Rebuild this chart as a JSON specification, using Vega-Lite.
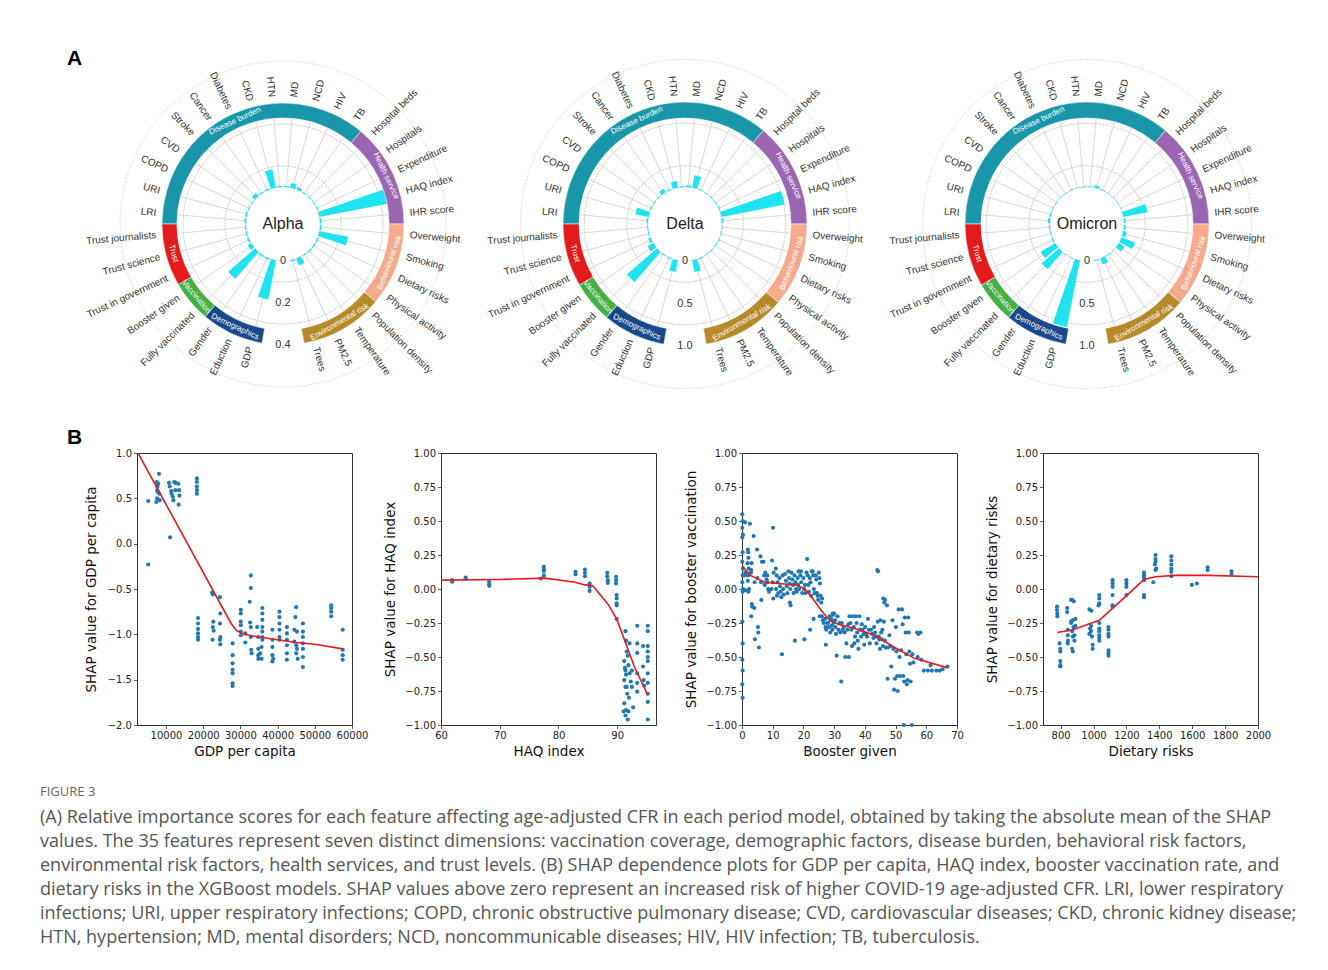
{
  "$schema": "https://vega.github.io/schema/vega-lite/v6.json",
  "background": "white",
  "padding": {"left": 40, "top": 48, "right": 5, "bottom": 5},
  "datasets": {
    "features": [
      {"feature":"LRI","k":-9,"group":"Disease burden","Alpha":0.008,"Delta":0.02,"Omicron":0.025},
      {"feature":"URI","k":-8,"group":"Disease burden","Alpha":0.008,"Delta":0.16,"Omicron":0.015},
      {"feature":"COPD","k":-7,"group":"Disease burden","Alpha":0.004,"Delta":0.012,"Omicron":0.008},
      {"feature":"CVD","k":-6,"group":"Disease burden","Alpha":0.004,"Delta":0.01,"Omicron":0.008},
      {"feature":"Stroke","k":-5,"group":"Disease burden","Alpha":0.02,"Delta":0.01,"Omicron":0.008},
      {"feature":"Cancer","k":-4,"group":"Disease burden","Alpha":0.006,"Delta":0.05,"Omicron":0.008},
      {"feature":"Diabetes","k":-3,"group":"Disease burden","Alpha":0.006,"Delta":0.012,"Omicron":0.008},
      {"feature":"CKD","k":-2,"group":"Disease burden","Alpha":0.09,"Delta":0.08,"Omicron":0.008},
      {"feature":"HTN","k":-1,"group":"Disease burden","Alpha":0.006,"Delta":0.012,"Omicron":0.008},
      {"feature":"MD","k":0,"group":"Disease burden","Alpha":0.006,"Delta":0.02,"Omicron":0.008},
      {"feature":"NCD","k":1,"group":"Disease burden","Alpha":0.023,"Delta":0.15,"Omicron":0.03},
      {"feature":"HIV","k":2,"group":"Disease burden","Alpha":0.012,"Delta":0.01,"Omicron":0.008},
      {"feature":"TB","k":3,"group":"Disease burden","Alpha":0.004,"Delta":0.008,"Omicron":0.006},
      {"feature":"Hospital beds","k":4,"group":"Health service","Alpha":0.004,"Delta":0.008,"Omicron":0.006},
      {"feature":"Hospitals","k":5,"group":"Health service","Alpha":0.004,"Delta":0.008,"Omicron":0.006},
      {"feature":"Expenditure","k":6,"group":"Health service","Alpha":0.004,"Delta":0.012,"Omicron":0.006},
      {"feature":"HAQ index","k":7,"group":"Health service","Alpha":0.33,"Delta":0.76,"Omicron":0.29},
      {"feature":"IHR score","k":8,"group":"Health service","Alpha":0.008,"Delta":0.015,"Omicron":0.015},
      {"feature":"Overweight","k":9,"group":"Behavioural risk","Alpha":0.008,"Delta":0.008,"Omicron":0.02},
      {"feature":"Smoking","k":10,"group":"Behavioural risk","Alpha":0.14,"Delta":0.01,"Omicron":0.04},
      {"feature":"Dietary risks","k":11,"group":"Behavioural risk","Alpha":0.006,"Delta":0.01,"Omicron":0.17},
      {"feature":"Physical activity","k":12,"group":"Behavioural risk","Alpha":0.006,"Delta":0.008,"Omicron":0.08},
      {"feature":"Population density","k":13,"group":"Environmental risk","Alpha":0.006,"Delta":0.008,"Omicron":0.006},
      {"feature":"Temperature","k":14,"group":"Environmental risk","Alpha":0.004,"Delta":0.008,"Omicron":0.01},
      {"feature":"PM2.5","k":15,"group":"Environmental risk","Alpha":0.035,"Delta":0.012,"Omicron":0.075},
      {"feature":"Trees","k":16,"group":"Environmental risk","Alpha":0.006,"Delta":0.14,"Omicron":0.01},
      {"feature":"GDP","k":19,"group":"Demographics","Alpha":0.19,"Delta":0.14,"Omicron":0.8},
      {"feature":"Eduction","k":20,"group":"Demographics","Alpha":0.008,"Delta":0.012,"Omicron":0.006},
      {"feature":"Gender","k":21,"group":"Demographics","Alpha":0.008,"Delta":0.012,"Omicron":0.006},
      {"feature":"Fully vaccinated","k":22,"group":"Vaccination","Alpha":0.17,"Delta":0.47,"Omicron":0.27},
      {"feature":"Booster given","k":23,"group":"Vaccination","Alpha":0.02,"Delta":0.08,"Omicron":0.2},
      {"feature":"Trust in government","k":24,"group":"Trust","Alpha":0.008,"Delta":0.03,"Omicron":0.015},
      {"feature":"Trust science","k":25,"group":"Trust","Alpha":0.006,"Delta":0.012,"Omicron":0.01},
      {"feature":"Trust journalists","k":26,"group":"Trust","Alpha":0.006,"Delta":0.012,"Omicron":0.012}
    ],
    "gdp": [
      {"x":5200,"y":0.47},{"x":5200,"y":-0.23},
      {"x":7400,"y":0.46},{"x":7600,"y":0.5},{"x":7800,"y":0.57},{"x":7900,"y":0.66},{"x":8100,"y":0.77},{"x":7500,"y":0.68},{"x":7700,"y":0.63},{"x":8200,"y":0.55},{"x":8300,"y":0.48},{"x":7600,"y":0.59},
      {"x":11100,"y":0.07},
      {"x":10800,"y":0.67},{"x":11000,"y":0.63},{"x":11500,"y":0.55},{"x":11800,"y":0.52},{"x":12200,"y":0.68},{"x":12500,"y":0.59},{"x":12000,"y":0.48},{"x":13300,"y":0.66},{"x":13500,"y":0.59},{"x":13600,"y":0.53},{"x":13400,"y":0.43},{"x":12600,"y":0.67},{"x":11400,"y":0.58},
      {"x":18300,"y":0.72},{"x":18300,"y":0.68},{"x":18300,"y":0.63},{"x":18300,"y":0.59},{"x":18300,"y":0.55},
      {"x":18600,"y":-0.82},{"x":18600,"y":-0.88},{"x":18600,"y":-0.94},{"x":18600,"y":-0.99},{"x":18600,"y":-1.03},{"x":18600,"y":-1.06},
      {"x":22400,"y":-0.54},{"x":22600,"y":-0.56},{"x":22700,"y":-0.86},{"x":22600,"y":-0.92},{"x":22500,"y":-1.06},{"x":22800,"y":-0.96},
      {"x":24500,"y":-0.59},{"x":24600,"y":-0.77},{"x":24500,"y":-0.88},{"x":24600,"y":-1.03},{"x":24500,"y":-1.06},{"x":24600,"y":-1.11},
      {"x":27900,"y":-1.1},{"x":27900,"y":-1.23},{"x":27900,"y":-1.32},{"x":27900,"y":-1.39},{"x":27900,"y":-1.43},{"x":27900,"y":-1.54},{"x":27900,"y":-1.57},
      {"x":30100,"y":-0.73},{"x":30100,"y":-0.77},{"x":30100,"y":-0.86},{"x":30100,"y":-0.9},{"x":30100,"y":-0.97},{"x":30100,"y":-1.01},
      {"x":31300,"y":-0.99},{"x":31300,"y":-1.09},
      {"x":32800,"y":-0.35},{"x":32800,"y":-0.49},{"x":32500,"y":-0.64},{"x":32600,"y":-0.87},{"x":32800,"y":-0.92},{"x":32800,"y":-1.03},{"x":32900,"y":-1.17},{"x":33000,"y":-1.21},
      {"x":34500,"y":-0.92},{"x":34800,"y":-1.03},{"x":34800,"y":-1.16},{"x":34800,"y":-1.23},{"x":34800,"y":-1.27},{"x":35700,"y":-1.14},{"x":35300,"y":-1.21},{"x":35700,"y":-1.27},
      {"x":35900,"y":-0.71},{"x":35900,"y":-0.77},{"x":35900,"y":-0.84},{"x":35900,"y":-0.92},{"x":35900,"y":-0.97},{"x":35900,"y":-1.03},{"x":35900,"y":-1.06},
      {"x":38600,"y":-0.95},{"x":38600,"y":-1.06},{"x":38600,"y":-1.14},{"x":38600,"y":-1.23},{"x":38600,"y":-1.3},{"x":38800,"y":-1.27},
      {"x":40500,"y":-0.75},{"x":40500,"y":-0.81},{"x":40500,"y":-0.88},{"x":40500,"y":-0.95},{"x":40500,"y":-1.03},{"x":40500,"y":-1.06},
      {"x":42500,"y":-0.92},{"x":42500,"y":-0.99},{"x":42500,"y":-1.06},{"x":42500,"y":-1.12},{"x":42500,"y":-1.21},{"x":42500,"y":-1.28},
      {"x":45000,"y":-0.7},{"x":44800,"y":-0.81},{"x":44500,"y":-0.95},{"x":44500,"y":-1.08},{"x":45000,"y":-1.12},{"x":45200,"y":-1.16},{"x":45000,"y":-1.21},{"x":45400,"y":-1.27},{"x":45200,"y":-0.97},
      {"x":46800,"y":-0.88},{"x":46800,"y":-0.97},{"x":46800,"y":-1.03},{"x":46800,"y":-1.1},{"x":46800,"y":-1.16},{"x":46800,"y":-1.25},{"x":46800,"y":-1.36},
      {"x":54400,"y":-0.68},{"x":54400,"y":-0.71},{"x":54400,"y":-0.75},{"x":54400,"y":-0.8},
      {"x":57500,"y":-0.95},{"x":57500,"y":-1.17},{"x":57500,"y":-1.23},{"x":57500,"y":-1.28}
    ],
    "gdp_fit": [
      {"x":2200,"y":1.02},{"x":27500,"y":-0.88},{"x":29000,"y":-0.96},{"x":31000,"y":-1.0},{"x":35000,"y":-1.03},{"x":40000,"y":-1.06},{"x":45000,"y":-1.09},{"x":50000,"y":-1.11},{"x":57500,"y":-1.16}
    ],
    "haq": [
      {"x":61.9,"y":0.065},{"x":61.9,"y":0.053},{"x":64.2,"y":0.084},{"x":64.2,"y":0.075},{"x":68.2,"y":0.053},{"x":68.2,"y":0.035},{"x":68.2,"y":0.023},
      {"x":77.0,"y":0.077},{"x":77.5,"y":0.163},{"x":77.5,"y":0.145},{"x":77.5,"y":0.133},{"x":77.5,"y":0.1},
      {"x":82.9,"y":0.126},{"x":82.9,"y":0.109},{"x":84.5,"y":0.143},{"x":84.5,"y":0.119},{"x":84.5,"y":0.094},
      {"x":85.3,"y":0.04},{"x":85.3,"y":0.016},{"x":85.3,"y":-0.014},
      {"x":88.3,"y":0.119},{"x":88.3,"y":0.094},{"x":88.4,"y":0.065},{"x":88.4,"y":0.045},
      {"x":89.8,"y":0.09},{"x":89.8,"y":0.065},{"x":89.8,"y":0.04},{"x":89.9,"y":-0.045},{"x":89.9,"y":-0.07},{"x":89.9,"y":-0.106},{"x":89.9,"y":-0.12},{"x":89.9,"y":-0.22},
      {"x":91.4,"y":-0.31},{"x":91.5,"y":-0.38},{"x":91.6,"y":-0.46},{"x":91.2,"y":-0.53},{"x":91.4,"y":-0.6},{"x":91.5,"y":-0.63},{"x":91.2,"y":-0.67},{"x":91.4,"y":-0.72},{"x":91.7,"y":-0.77},{"x":91.2,"y":-0.84},{"x":91.5,"y":-0.89},{"x":91.4,"y":-0.93},{"x":91.8,"y":-0.96},{"x":91.8,"y":-0.49},{"x":92.1,"y":-0.4},{"x":91.9,"y":-0.56},{"x":92.1,"y":-0.62},{"x":92.3,"y":-0.68},{"x":91.9,"y":-0.9},{"x":91.1,"y":-0.9},{"x":91.6,"y":-0.72},{"x":92.0,"y":-0.8},{"x":91.3,"y":-0.58},
      {"x":92.5,"y":-0.6},{"x":92.5,"y":-0.72},{"x":92.7,"y":-0.87},
      {"x":93.4,"y":-0.27},{"x":93.4,"y":-0.4},{"x":93.4,"y":-0.47},{"x":93.4,"y":-0.62},{"x":93.4,"y":-0.69},{"x":93.4,"y":-0.755},
      {"x":94.4,"y":-0.42},{"x":94.4,"y":-0.57},{"x":94.5,"y":-0.67},{"x":94.6,"y":-0.71},
      {"x":95.2,"y":-0.27},{"x":95.2,"y":-0.31},{"x":95.2,"y":-0.42},{"x":95.2,"y":-0.46},{"x":95.2,"y":-0.5},{"x":95.2,"y":-0.53},{"x":95.2,"y":-0.62},{"x":95.2,"y":-0.69},{"x":95.2,"y":-0.77},{"x":95.2,"y":-0.83},{"x":95.2,"y":-0.96}
    ],
    "haq_fit": [
      {"x":60,"y":0.065},{"x":70,"y":0.07},{"x":77.7,"y":0.08},{"x":82.8,"y":0.05},{"x":84.5,"y":0.03},{"x":85.8,"y":0.025},{"x":88.4,"y":-0.11},{"x":89.9,"y":-0.22},{"x":91.2,"y":-0.37},{"x":92.9,"y":-0.57},{"x":95.2,"y":-0.78}
    ],
    "booster": [
      {"x":0.1,"y":0.55},{"x":0.2,"y":0.5},{"x":0.1,"y":0.45},{"x":0.3,"y":0.4},{"x":0.1,"y":0.38},{"x":0.2,"y":0.27},{"x":0.1,"y":0.2},{"x":0.3,"y":0.15},{"x":0.2,"y":0.1},{"x":0.1,"y":0.05},{"x":0.3,"y":0.0},{"x":0.2,"y":-0.02},{"x":0.1,"y":-0.24},{"x":0.2,"y":-0.4},{"x":0.1,"y":-0.52},{"x":0.2,"y":-0.6},{"x":0.1,"y":-0.7},{"x":0.2,"y":-0.8},
      {"x":1.0,"y":0.49},{"x":1.1,"y":0.12},{"x":0.9,"y":0.1},{"x":1.2,"y":-0.01},
      {"x":1.9,"y":0.29},{"x":2.0,"y":0.27},{"x":2.1,"y":0.23},{"x":1.8,"y":0.19},{"x":2.2,"y":0.15},{"x":2.0,"y":0.1},{"x":1.9,"y":0.06},{"x":2.3,"y":0.0},{"x":2.1,"y":-0.02},{"x":2.6,"y":0.48},
      {"x":3.0,"y":0.14},{"x":3.1,"y":0.19},{"x":2.9,"y":0.12},{"x":3.2,"y":-0.11},{"x":3.3,"y":-0.13},{"x":3.0,"y":-0.2},
      {"x":3.8,"y":0.39},{"x":4.1,"y":0.05},{"x":4.0,"y":-0.14},{"x":4.2,"y":-0.37},
      {"x":4.9,"y":0.29},{"x":5.0,"y":0.08},{"x":5.2,"y":-0.28},{"x":5.3,"y":-0.32},{"x":5.5,"y":-0.43},
      {"x":6.0,"y":0.24},{"x":6.2,"y":0.05},{"x":6.3,"y":-0.08},{"x":6.5,"y":0.2},
      {"x":7.0,"y":0.2},{"x":7.2,"y":0.1},{"x":7.4,"y":0.03},{"x":7.6,"y":0.12},
      {"x":8.0,"y":0.07},{"x":8.3,"y":0.05},{"x":8.5,"y":0.0},{"x":8.8,"y":-0.02},{"x":8.2,"y":0.1},
      {"x":10.1,"y":0.45},{"x":9.8,"y":0.21},{"x":10.3,"y":0.12},{"x":10.0,"y":0.05},{"x":10.2,"y":-0.07},{"x":9.6,"y":0.0},
      {"x":11.0,"y":0.15},{"x":11.3,"y":0.1},{"x":11.6,"y":0.05},{"x":11.1,"y":0.0},{"x":11.8,"y":-0.03},{"x":11.4,"y":-0.05},
      {"x":12.2,"y":0.08},{"x":12.4,"y":0.02},{"x":12.6,"y":-0.02},{"x":12.8,"y":-0.06},
      {"x":13.0,"y":-0.48},{"x":13.2,"y":0.1},{"x":13.4,"y":0.0},{"x":13.6,"y":-0.04},
      {"x":14.0,"y":0.11},{"x":14.3,"y":0.06},{"x":14.6,"y":0.02},{"x":14.8,"y":-0.03},
      {"x":15.1,"y":0.13},{"x":15.3,"y":0.08},{"x":15.5,"y":0.04},{"x":15.7,"y":0.0},{"x":15.6,"y":-0.1},{"x":15.8,"y":-0.12},
      {"x":16.1,"y":0.12},{"x":16.4,"y":0.07},{"x":16.6,"y":0.03},{"x":16.8,"y":-0.03},
      {"x":17.2,"y":-0.38},{"x":17.1,"y":0.1},{"x":17.4,"y":0.05},{"x":17.6,"y":0.0},{"x":17.8,"y":-0.02},
      {"x":18.1,"y":0.08},{"x":18.3,"y":0.03},{"x":18.6,"y":0.0},{"x":18.4,"y":0.13},
      {"x":19.0,"y":0.1},{"x":19.3,"y":0.05},{"x":19.6,"y":-0.03},{"x":19.2,"y":0.13},
      {"x":20.3,"y":-0.37},{"x":20.0,"y":0.08},{"x":20.2,"y":0.0},{"x":20.5,"y":0.03},{"x":20.7,"y":-0.03},
      {"x":21.2,"y":0.22},{"x":21.0,"y":0.12},{"x":21.4,"y":0.1},{"x":21.6,"y":0.03},{"x":21.8,"y":-0.02},
      {"x":22.1,"y":0.08},{"x":22.3,"y":0.05},{"x":22.5,"y":-0.05},{"x":22.2,"y":-0.3},{"x":22.7,"y":0.13},
      {"x":23.0,"y":0.13},{"x":23.2,"y":0.1},{"x":23.4,"y":0.0},{"x":23.6,"y":-0.03},{"x":23.3,"y":-0.22},
      {"x":24.0,"y":0.1},{"x":24.2,"y":0.07},{"x":24.4,"y":-0.03},{"x":24.6,"y":-0.05},{"x":24.8,"y":-0.08},
      {"x":25.0,"y":0.12},{"x":25.2,"y":0.08},{"x":25.4,"y":0.04},{"x":25.3,"y":-0.2},{"x":25.6,"y":-0.05},{"x":25.8,"y":-0.1},
      {"x":26.0,"y":-0.2},{"x":26.3,"y":-0.23},{"x":26.1,"y":-0.07},{"x":26.6,"y":-0.25},
      {"x":27.0,"y":-0.22},{"x":27.2,"y":-0.28},{"x":27.4,"y":-0.3},{"x":27.3,"y":-0.41},{"x":27.7,"y":-0.25},
      {"x":28.0,"y":-0.25},{"x":28.3,"y":-0.28},{"x":28.5,"y":-0.2},{"x":28.7,"y":-0.32},{"x":28.9,"y":-0.23},
      {"x":29.0,"y":-0.22},{"x":29.2,"y":-0.27},{"x":29.4,"y":-0.3},{"x":29.6,"y":-0.19},{"x":29.8,"y":-0.25},{"x":29.5,"y":-0.18},
      {"x":30.0,"y":-0.18},{"x":30.3,"y":-0.23},{"x":30.6,"y":-0.33},{"x":30.8,"y":-0.49},{"x":30.4,"y":-0.28},
      {"x":31.1,"y":-0.2},{"x":31.4,"y":-0.3},{"x":31.7,"y":-0.25},
      {"x":32.0,"y":-0.32},{"x":32.3,"y":-0.68},{"x":32.5,"y":-0.25},{"x":32.8,"y":-0.3},
      {"x":33.1,"y":-0.28},{"x":33.4,"y":-0.32},{"x":33.6,"y":-0.5},
      {"x":34.0,"y":-0.4},{"x":34.3,"y":-0.3},{"x":34.6,"y":-0.26},{"x":34.8,"y":-0.5},
      {"x":35.0,"y":-0.2},{"x":35.3,"y":-0.25},{"x":35.6,"y":-0.3},{"x":35.8,"y":-0.42},
      {"x":36.1,"y":-0.2},{"x":36.4,"y":-0.28},{"x":36.6,"y":-0.4},{"x":36.8,"y":-0.35},
      {"x":37.0,"y":-0.2},{"x":37.3,"y":-0.25},{"x":37.5,"y":-0.32},{"x":37.7,"y":-0.38},{"x":37.9,"y":-0.44},
      {"x":38.2,"y":-0.2},{"x":38.5,"y":-0.3},{"x":38.8,"y":-0.35},
      {"x":39.0,"y":-0.26},{"x":39.3,"y":-0.3},{"x":39.6,"y":-0.33},{"x":39.8,"y":-0.41},
      {"x":40.1,"y":-0.28},{"x":40.4,"y":-0.33},{"x":40.7,"y":-0.35},
      {"x":41.0,"y":-0.22},{"x":41.3,"y":-0.3},{"x":41.6,"y":-0.4},
      {"x":42.0,"y":-0.3},{"x":42.4,"y":-0.33},{"x":42.8,"y":-0.36},
      {"x":43.0,"y":-0.28},{"x":43.3,"y":-0.32},{"x":43.6,"y":-0.35},{"x":43.8,"y":-0.4},
      {"x":44.0,"y":0.14},{"x":44.3,"y":0.13},{"x":44.2,"y":-0.24},{"x":44.5,"y":-0.35},{"x":44.7,"y":-0.37},{"x":44.9,"y":-0.44},
      {"x":45.1,"y":-0.23},{"x":45.3,"y":-0.32},{"x":45.5,"y":-0.37},{"x":45.7,"y":-0.3},{"x":45.9,"y":-0.42},
      {"x":46.0,"y":-0.07},{"x":46.3,"y":-0.1},{"x":46.6,"y":-0.08},{"x":46.2,"y":-0.24},{"x":46.5,"y":-0.38},{"x":46.8,"y":-0.43},
      {"x":47.2,"y":-0.12},{"x":47.5,"y":-0.43},{"x":47.4,"y":-0.66},
      {"x":48.0,"y":-0.34},{"x":48.3,"y":-0.42},{"x":48.6,"y":-0.57},
      {"x":49.0,"y":-0.23},{"x":49.3,"y":-0.44},{"x":49.5,"y":-0.74},{"x":49.8,"y":-0.66},
      {"x":50.1,"y":-0.28},{"x":50.3,"y":-0.46},{"x":50.5,"y":-0.64},{"x":50.7,"y":-0.75},
      {"x":51.0,"y":-0.15},{"x":51.3,"y":-0.5},{"x":51.5,"y":-0.64},{"x":51.8,"y":-0.45},
      {"x":52.1,"y":-0.15},{"x":52.3,"y":-0.26},{"x":52.5,"y":-0.64},{"x":52.8,"y":-0.68},{"x":52.7,"y":-1.0},
      {"x":53.0,"y":-0.21},{"x":53.3,"y":-0.32},{"x":53.5,"y":-0.48},{"x":53.7,"y":-0.7},{"x":53.9,"y":-0.67},
      {"x":54.1,"y":-0.21},{"x":54.3,"y":-0.32},{"x":54.5,"y":-0.46},{"x":54.7,"y":-0.55},{"x":54.9,"y":-0.68},
      {"x":55.3,"y":-1.0},{"x":55.5,"y":-0.48},{"x":55.8,"y":-0.54},
      {"x":57.0,"y":-0.32},{"x":57.4,"y":-0.33},{"x":57.2,"y":-0.5},
      {"x":58.1,"y":-0.32},{"x":58.4,"y":-0.52},
      {"x":59.2,"y":-0.6},{"x":60.5,"y":-0.6},{"x":61.4,"y":-0.56},{"x":61.8,"y":-0.6},{"x":63.3,"y":-0.6},{"x":64.4,"y":-0.6},{"x":65.3,"y":-0.59},{"x":66.9,"y":-0.57}
    ],
    "booster_fit": [
      {"x":0,"y":0.17},{"x":2.7,"y":0.1},{"x":7.4,"y":0.05},{"x":11.7,"y":0.04},{"x":17.6,"y":0.03},{"x":20.5,"y":0.0},{"x":22.7,"y":-0.06},{"x":25.9,"y":-0.16},{"x":28.1,"y":-0.22},{"x":31.3,"y":-0.26},{"x":36.7,"y":-0.29},{"x":43.2,"y":-0.34},{"x":49.7,"y":-0.43},{"x":56.2,"y":-0.51},{"x":67,"y":-0.58}
    ],
    "diet": [
      {"x":778,"y":-0.13},{"x":778,"y":-0.155},{"x":780,"y":-0.18},{"x":780,"y":-0.2},{"x":794,"y":-0.4},{"x":798,"y":-0.44},{"x":798,"y":-0.46},{"x":798,"y":-0.53},{"x":798,"y":-0.56},{"x":798,"y":-0.57},
      {"x":840,"y":-0.14},{"x":840,"y":-0.17},{"x":844,"y":-0.3},{"x":844,"y":-0.34},{"x":844,"y":-0.38},{"x":844,"y":-0.4},
      {"x":864,"y":-0.08},{"x":870,"y":-0.08},{"x":880,"y":-0.09},{"x":874,"y":-0.23},{"x":864,"y":-0.25},{"x":878,"y":-0.28},{"x":870,"y":-0.31},{"x":884,"y":-0.34},{"x":874,"y":-0.35},{"x":884,"y":-0.38},{"x":870,"y":-0.44},{"x":874,"y":-0.46},{"x":864,"y":-0.24},{"x":890,"y":-0.22},{"x":890,"y":-0.27},
      {"x":975,"y":-0.15},{"x":987,"y":-0.16},{"x":979,"y":-0.29},{"x":985,"y":-0.31},{"x":975,"y":-0.33},{"x":991,"y":-0.35},{"x":985,"y":-0.27},{"x":995,"y":-0.41},{"x":995,"y":-0.44},
      {"x":1035,"y":-0.045},{"x":1035,"y":-0.07},{"x":1035,"y":-0.106},{"x":1031,"y":-0.12},{"x":1035,"y":-0.25},{"x":1035,"y":-0.29},{"x":1035,"y":-0.31},{"x":1035,"y":-0.34},{"x":1035,"y":-0.36},{"x":1035,"y":-0.38},
      {"x":1091,"y":-0.28},{"x":1091,"y":-0.3},{"x":1091,"y":-0.33},{"x":1091,"y":-0.35},{"x":1091,"y":-0.45},{"x":1091,"y":-0.47},{"x":1091,"y":-0.49},
      {"x":1116,"y":0.065},{"x":1116,"y":0.04},{"x":1116,"y":0.016},{"x":1116,"y":-0.045},{"x":1116,"y":-0.12},{"x":1116,"y":-0.13},
      {"x":1200,"y":0.065},{"x":1200,"y":0.04},{"x":1200,"y":0.016},{"x":1200,"y":-0.045},
      {"x":1307,"y":0.12},{"x":1307,"y":0.1},{"x":1307,"y":0.085},{"x":1307,"y":0.065},{"x":1307,"y":-0.045},{"x":1307,"y":-0.06},
      {"x":1363,"y":0.05},
      {"x":1377,"y":0.25},{"x":1377,"y":0.22},{"x":1377,"y":0.2},{"x":1373,"y":0.18},{"x":1381,"y":0.15},{"x":1377,"y":0.14},
      {"x":1473,"y":0.24},{"x":1473,"y":0.21},{"x":1473,"y":0.18},{"x":1473,"y":0.15},{"x":1473,"y":0.126},{"x":1473,"y":0.094},
      {"x":1598,"y":0.03},{"x":1628,"y":0.04},
      {"x":1694,"y":0.16},{"x":1694,"y":0.14},
      {"x":1839,"y":0.13},{"x":1839,"y":0.11}
    ],
    "diet_fit": [
      {"x":780,"y":-0.32},{"x":874,"y":-0.3},{"x":1035,"y":-0.23},{"x":1136,"y":-0.12},{"x":1236,"y":-0.01},{"x":1306,"y":0.07},{"x":1377,"y":0.09},{"x":1497,"y":0.1},{"x":1698,"y":0.1},{"x":2000,"y":0.09}
    ]
  },
  "title": {
    "text": "FIGURE 3",
    "subtitle": [
      "(A) Relative importance scores for each feature affecting age-adjusted CFR in each period model, obtained by taking the absolute mean of the SHAP",
      "values. The 35 features represent seven distinct dimensions: vaccination coverage, demographic factors, disease burden, behavioral risk factors,",
      "environmental risk factors, health services, and trust levels. (B) SHAP dependence plots for GDP per capita, HAQ index, booster vaccination rate, and",
      "dietary risks in the XGBoost models. SHAP values above zero represent an increased risk of higher COVID-19 age-adjusted CFR. LRI, lower respiratory",
      "infections; URI, upper respiratory infections; COPD, chronic obstructive pulmonary disease; CVD, cardiovascular diseases; CKD, chronic kidney disease;",
      "HTN, hypertension; MD, mental disorders; NCD, noncommunicable diseases; HIV, HIV infection; TB, tuberculosis."
    ],
    "orient": "bottom",
    "anchor": "start",
    "frame": "bounds",
    "dx": -27,
    "offset": 27,
    "font": "Open Sans",
    "fontSize": 13,
    "fontWeight": "normal",
    "color": "#666666",
    "subtitleFont": "Open Sans",
    "subtitleFontSize": 18,
    "subtitleColor": "#555555",
    "subtitleLineHeight": 24,
    "subtitlePadding": 10
  },
  "spacing": 36,
  "vconcat": [
    {
      "title": {"text": "A", "anchor": "start", "frame": "bounds", "dx": -15, "offset": -11, "font": "Liberation Sans", "fontSize": 21, "fontWeight": "bold", "color": "#000000"},
      "hconcat": [
        {
          "width": 402, "height": 312, "view": {"stroke": null},
          "data": {"name": "features"},
          "layer": [
            {"mark": {"type": "arc", "filled": false, "stroke": "#c4c4c4", "strokeWidth": 0.7, "strokeDash": [1.5, 1.5]},
             "transform": [{"calculate": "datum.k*10+5", "as": "tc"}],
             "encoding": {"theta": {"field": "tc", "type": "quantitative", "scale": {"type": "linear", "domain": [0, 360], "range": [0, 6.283185307179586]}, "stack": null}, "theta2": {"field": "tc"},
               "radius": {"datum": 0.329, "type": "quantitative", "scale": {"type": "linear", "domain": [-0.1762, 0.4], "range": [0, 121], "zero": false, "nice": false}}, "radius2": {"datum": 0}}},
            {"data": {"values": [{"v": 0.1}, {"v": 0.2}, {"v": 0.3}]},
             "mark": {"type": "arc", "filled": false, "stroke": "#c4c4c4", "strokeWidth": 0.7, "strokeDash": [1.5, 1.5]},
             "encoding": {"theta": {"datum": 0, "type": "quantitative", "scale": {"type": "linear", "domain": [0, 360], "range": [0, 6.283185307179586]}}, "theta2": {"datum": 360},
               "radius": {"field": "v", "type": "quantitative", "scale": {"type": "linear", "domain": [-0.1762, 0.4], "range": [0, 121], "zero": false, "nice": false}}}},
            {"mark": {"type": "arc", "color": "#1fe3f0"},
             "transform": [{"calculate": "datum.k*10+1", "as": "t0"}, {"calculate": "datum.k*10+9", "as": "t1"}],
             "encoding": {"theta": {"field": "t0", "type": "quantitative", "stack": null}, "theta2": {"field": "t1"},
               "radius": {"field": "Alpha", "type": "quantitative", "stack": null}, "radius2": {"datum": 0}}},
            {"transform": [{"aggregate": [{"op": "min", "field": "k", "as": "kmin"}, {"op": "max", "field": "k", "as": "kmax"}], "groupby": ["group"]},
               {"calculate": "datum.kmin*10", "as": "a0"}, {"calculate": "datum.kmax*10+10", "as": "a1"}],
             "mark": {"type": "arc", "stroke": "white", "strokeWidth": 0.5},
             "encoding": {"theta": {"field": "a0", "type": "quantitative", "stack": null}, "theta2": {"field": "a1"},
               "radius": {"datum": 0.4, "type": "quantitative"}, "radius2": {"datum": 0.329},
               "color": {"field": "group", "type": "nominal", "legend": null, "scale": {"domain": ["Disease burden", "Health service", "Behavioural risk", "Environmental risk", "Demographics", "Vaccination", "Trust"], "range": ["#1a96aa", "#9a66b2", "#f7a98b", "#b8892a", "#18498c", "#45b043", "#e41a1c"]}}}},
            {"transform": [{"aggregate": [{"op": "min", "field": "k", "as": "kmin"}, {"op": "max", "field": "k", "as": "kmax"}], "groupby": ["group"]},
               {"calculate": "datum.kmin*5+datum.kmax*5+5", "as": "am"}, {"calculate": "cos(datum.am*PI/180) >= 0 ? datum.am : datum.am - 180", "as": "rot"}],
             "mark": {"type": "text", "font": "Liberation Sans", "fontSize": 8, "color": "white", "align": "center", "baseline": "middle"},
             "encoding": {"theta": {"field": "am", "type": "quantitative", "stack": null}, "radius": {"datum": 0.3645, "type": "quantitative"},
               "angle": {"field": "rot", "type": "quantitative", "scale": null}, "text": {"field": "group"}}},
            {"transform": [{"filter": "datum.k >= 0 && datum.k <= 17"}, {"calculate": "datum.k*10+5", "as": "tc"}, {"calculate": "datum.tc - 90", "as": "rot"}],
             "mark": {"type": "text", "font": "Liberation Sans", "fontSize": 10, "color": "#333333", "align": "left", "baseline": "middle"},
             "encoding": {"theta": {"field": "tc", "type": "quantitative", "stack": null}, "radius": {"datum": 0.43, "type": "quantitative"},
               "angle": {"field": "rot", "type": "quantitative", "scale": null}, "text": {"field": "feature"}}},
            {"transform": [{"filter": "datum.k < 0 || datum.k > 17"}, {"calculate": "datum.k*10+5", "as": "tc"}, {"calculate": "datum.tc + 90", "as": "rot"}],
             "mark": {"type": "text", "font": "Liberation Sans", "fontSize": 10, "color": "#333333", "align": "right", "baseline": "middle"},
             "encoding": {"theta": {"field": "tc", "type": "quantitative", "stack": null}, "radius": {"datum": 0.43, "type": "quantitative"},
               "angle": {"field": "rot", "type": "quantitative", "scale": null}, "text": {"field": "feature"}}},
            {"data": {"values": [{"v": 0, "lab": "0"}, {"v": 0.2, "lab": "0.2"}, {"v": 0.4, "lab": "0.4"}]},
             "mark": {"type": "text", "font": "Liberation Sans", "fontSize": 11, "color": "#333333", "align": "center", "baseline": "middle"},
             "encoding": {"theta": {"datum": 180, "type": "quantitative"}, "radius": {"field": "v", "type": "quantitative"}, "text": {"field": "lab"}}},
            {"data": {"values": [{"name": "Alpha"}]},
             "mark": {"type": "text", "font": "Liberation Sans", "fontSize": 16, "color": "#222222", "align": "center", "baseline": "middle"},
             "encoding": {"text": {"field": "name"}}}
          ]
        },
        {
          "width": 402, "height": 312, "view": {"stroke": null},
          "data": {"name": "features"},
          "layer": [
            {"mark": {"type": "arc", "filled": false, "stroke": "#c4c4c4", "strokeWidth": 0.7, "strokeDash": [1.5, 1.5]},
             "transform": [{"calculate": "datum.k*10+5", "as": "tc"}],
             "encoding": {"theta": {"field": "tc", "type": "quantitative", "scale": {"type": "linear", "domain": [0, 360], "range": [0, 6.283185307179586]}, "stack": null}, "theta2": {"field": "tc"},
               "radius": {"datum": 0.812, "type": "quantitative", "scale": {"type": "linear", "domain": [-0.4353, 1.0], "range": [0, 122], "zero": false, "nice": false}}, "radius2": {"datum": 0}}},
            {"data": {"values": [{"v": 0.25}, {"v": 0.5}, {"v": 0.75}]},
             "mark": {"type": "arc", "filled": false, "stroke": "#c4c4c4", "strokeWidth": 0.7, "strokeDash": [1.5, 1.5]},
             "encoding": {"theta": {"datum": 0, "type": "quantitative", "scale": {"type": "linear", "domain": [0, 360], "range": [0, 6.283185307179586]}}, "theta2": {"datum": 360},
               "radius": {"field": "v", "type": "quantitative", "scale": {"type": "linear", "domain": [-0.4353, 1.0], "range": [0, 122], "zero": false, "nice": false}}}},
            {"mark": {"type": "arc", "color": "#1fe3f0"},
             "transform": [{"calculate": "datum.k*10+1", "as": "t0"}, {"calculate": "datum.k*10+9", "as": "t1"}],
             "encoding": {"theta": {"field": "t0", "type": "quantitative", "stack": null}, "theta2": {"field": "t1"},
               "radius": {"field": "Delta", "type": "quantitative", "stack": null}, "radius2": {"datum": 0}}},
            {"transform": [{"aggregate": [{"op": "min", "field": "k", "as": "kmin"}, {"op": "max", "field": "k", "as": "kmax"}], "groupby": ["group"]},
               {"calculate": "datum.kmin*10", "as": "a0"}, {"calculate": "datum.kmax*10+10", "as": "a1"}],
             "mark": {"type": "arc", "stroke": "white", "strokeWidth": 0.5},
             "encoding": {"theta": {"field": "a0", "type": "quantitative", "stack": null}, "theta2": {"field": "a1"},
               "radius": {"datum": 1.0, "type": "quantitative"}, "radius2": {"datum": 0.812},
               "color": {"field": "group", "type": "nominal", "legend": null, "scale": {"domain": ["Disease burden", "Health service", "Behavioural risk", "Environmental risk", "Demographics", "Vaccination", "Trust"], "range": ["#1a96aa", "#9a66b2", "#f7a98b", "#b8892a", "#18498c", "#45b043", "#e41a1c"]}}}},
            {"transform": [{"aggregate": [{"op": "min", "field": "k", "as": "kmin"}, {"op": "max", "field": "k", "as": "kmax"}], "groupby": ["group"]},
               {"calculate": "datum.kmin*5+datum.kmax*5+5", "as": "am"}, {"calculate": "cos(datum.am*PI/180) >= 0 ? datum.am : datum.am - 180", "as": "rot"}],
             "mark": {"type": "text", "font": "Liberation Sans", "fontSize": 8, "color": "white", "align": "center", "baseline": "middle"},
             "encoding": {"theta": {"field": "am", "type": "quantitative", "stack": null}, "radius": {"datum": 0.906, "type": "quantitative"},
               "angle": {"field": "rot", "type": "quantitative", "scale": null}, "text": {"field": "group"}}},
            {"transform": [{"filter": "datum.k >= 0 && datum.k <= 17"}, {"calculate": "datum.k*10+5", "as": "tc"}, {"calculate": "datum.tc - 90", "as": "rot"}],
             "mark": {"type": "text", "font": "Liberation Sans", "fontSize": 10, "color": "#333333", "align": "left", "baseline": "middle"},
             "encoding": {"theta": {"field": "tc", "type": "quantitative", "stack": null}, "radius": {"datum": 1.07, "type": "quantitative"},
               "angle": {"field": "rot", "type": "quantitative", "scale": null}, "text": {"field": "feature"}}},
            {"transform": [{"filter": "datum.k < 0 || datum.k > 17"}, {"calculate": "datum.k*10+5", "as": "tc"}, {"calculate": "datum.tc + 90", "as": "rot"}],
             "mark": {"type": "text", "font": "Liberation Sans", "fontSize": 10, "color": "#333333", "align": "right", "baseline": "middle"},
             "encoding": {"theta": {"field": "tc", "type": "quantitative", "stack": null}, "radius": {"datum": 1.07, "type": "quantitative"},
               "angle": {"field": "rot", "type": "quantitative", "scale": null}, "text": {"field": "feature"}}},
            {"data": {"values": [{"v": 0, "lab": "0"}, {"v": 0.5, "lab": "0.5"}, {"v": 1.0, "lab": "1.0"}]},
             "mark": {"type": "text", "font": "Liberation Sans", "fontSize": 11, "color": "#333333", "align": "center", "baseline": "middle"},
             "encoding": {"theta": {"datum": 180, "type": "quantitative"}, "radius": {"field": "v", "type": "quantitative"}, "text": {"field": "lab"}}},
            {"data": {"values": [{"name": "Delta"}]},
             "mark": {"type": "text", "font": "Liberation Sans", "fontSize": 16, "color": "#222222", "align": "center", "baseline": "middle"},
             "encoding": {"text": {"field": "name"}}}
          ]
        },
        {
          "width": 402, "height": 312, "view": {"stroke": null},
          "data": {"name": "features"},
          "layer": [
            {"mark": {"type": "arc", "filled": false, "stroke": "#c4c4c4", "strokeWidth": 0.7, "strokeDash": [1.5, 1.5]},
             "transform": [{"calculate": "datum.k*10+5", "as": "tc"}],
             "encoding": {"theta": {"field": "tc", "type": "quantitative", "scale": {"type": "linear", "domain": [0, 360], "range": [0, 6.283185307179586]}, "stack": null}, "theta2": {"field": "tc"},
               "radius": {"datum": 0.812, "type": "quantitative", "scale": {"type": "linear", "domain": [-0.4353, 1.0], "range": [0, 122], "zero": false, "nice": false}}, "radius2": {"datum": 0}}},
            {"data": {"values": [{"v": 0.25}, {"v": 0.5}, {"v": 0.75}]},
             "mark": {"type": "arc", "filled": false, "stroke": "#c4c4c4", "strokeWidth": 0.7, "strokeDash": [1.5, 1.5]},
             "encoding": {"theta": {"datum": 0, "type": "quantitative", "scale": {"type": "linear", "domain": [0, 360], "range": [0, 6.283185307179586]}}, "theta2": {"datum": 360},
               "radius": {"field": "v", "type": "quantitative", "scale": {"type": "linear", "domain": [-0.4353, 1.0], "range": [0, 122], "zero": false, "nice": false}}}},
            {"mark": {"type": "arc", "color": "#1fe3f0"},
             "transform": [{"calculate": "datum.k*10+1", "as": "t0"}, {"calculate": "datum.k*10+9", "as": "t1"}],
             "encoding": {"theta": {"field": "t0", "type": "quantitative", "stack": null}, "theta2": {"field": "t1"},
               "radius": {"field": "Omicron", "type": "quantitative", "stack": null}, "radius2": {"datum": 0}}},
            {"transform": [{"aggregate": [{"op": "min", "field": "k", "as": "kmin"}, {"op": "max", "field": "k", "as": "kmax"}], "groupby": ["group"]},
               {"calculate": "datum.kmin*10", "as": "a0"}, {"calculate": "datum.kmax*10+10", "as": "a1"}],
             "mark": {"type": "arc", "stroke": "white", "strokeWidth": 0.5},
             "encoding": {"theta": {"field": "a0", "type": "quantitative", "stack": null}, "theta2": {"field": "a1"},
               "radius": {"datum": 1.0, "type": "quantitative"}, "radius2": {"datum": 0.812},
               "color": {"field": "group", "type": "nominal", "legend": null, "scale": {"domain": ["Disease burden", "Health service", "Behavioural risk", "Environmental risk", "Demographics", "Vaccination", "Trust"], "range": ["#1a96aa", "#9a66b2", "#f7a98b", "#b8892a", "#18498c", "#45b043", "#e41a1c"]}}}},
            {"transform": [{"aggregate": [{"op": "min", "field": "k", "as": "kmin"}, {"op": "max", "field": "k", "as": "kmax"}], "groupby": ["group"]},
               {"calculate": "datum.kmin*5+datum.kmax*5+5", "as": "am"}, {"calculate": "cos(datum.am*PI/180) >= 0 ? datum.am : datum.am - 180", "as": "rot"}],
             "mark": {"type": "text", "font": "Liberation Sans", "fontSize": 8, "color": "white", "align": "center", "baseline": "middle"},
             "encoding": {"theta": {"field": "am", "type": "quantitative", "stack": null}, "radius": {"datum": 0.906, "type": "quantitative"},
               "angle": {"field": "rot", "type": "quantitative", "scale": null}, "text": {"field": "group"}}},
            {"transform": [{"filter": "datum.k >= 0 && datum.k <= 17"}, {"calculate": "datum.k*10+5", "as": "tc"}, {"calculate": "datum.tc - 90", "as": "rot"}],
             "mark": {"type": "text", "font": "Liberation Sans", "fontSize": 10, "color": "#333333", "align": "left", "baseline": "middle"},
             "encoding": {"theta": {"field": "tc", "type": "quantitative", "stack": null}, "radius": {"datum": 1.07, "type": "quantitative"},
               "angle": {"field": "rot", "type": "quantitative", "scale": null}, "text": {"field": "feature"}}},
            {"transform": [{"filter": "datum.k < 0 || datum.k > 17"}, {"calculate": "datum.k*10+5", "as": "tc"}, {"calculate": "datum.tc + 90", "as": "rot"}],
             "mark": {"type": "text", "font": "Liberation Sans", "fontSize": 10, "color": "#333333", "align": "right", "baseline": "middle"},
             "encoding": {"theta": {"field": "tc", "type": "quantitative", "stack": null}, "radius": {"datum": 1.07, "type": "quantitative"},
               "angle": {"field": "rot", "type": "quantitative", "scale": null}, "text": {"field": "feature"}}},
            {"data": {"values": [{"v": 0, "lab": "0"}, {"v": 0.5, "lab": "0.5"}, {"v": 1.0, "lab": "1.0"}]},
             "mark": {"type": "text", "font": "Liberation Sans", "fontSize": 11, "color": "#333333", "align": "center", "baseline": "middle"},
             "encoding": {"theta": {"datum": 180, "type": "quantitative"}, "radius": {"field": "v", "type": "quantitative"}, "text": {"field": "lab"}}},
            {"data": {"values": [{"name": "Omicron"}]},
             "mark": {"type": "text", "font": "Liberation Sans", "fontSize": 16, "color": "#222222", "align": "center", "baseline": "middle"},
             "encoding": {"text": {"field": "name"}}}
          ]
        }
      ],
      "spacing": 0,
      "bounds": "flush"
    },
    {
      "title": {"text": "B", "anchor": "start", "frame": "bounds", "dx": -15, "offset": 0, "font": "Liberation Sans", "fontSize": 21, "fontWeight": "bold", "color": "#000000"},
      "spacing": 0,
      "bounds": "full",
      "hconcat": [
        {"width": 1, "height": 1, "view": {"stroke": null}, "data": {"values": []}, "mark": {"type": "point", "opacity": 0}, "encoding": {}},
        {
          "spacing": 14,
          "bounds": "full",
          "hconcat": [
            {
              "width": 215, "height": 272,
              "layer": [
                {"data": {"name": "gdp"}, "mark": {"type": "point", "filled": true, "size": 17, "color": "#1f77b4", "opacity": 1},
                 "encoding": {
                   "x": {"field": "x", "type": "quantitative", "scale": {"domain": [2200, 60000], "nice": false, "zero": false}, "axis": {"title": "GDP per capita", "values": [10000, 20000, 30000, 40000, 50000, 60000], "tickCount": 12, "format": "d", "labelOverlap": false}},
                   "y": {"field": "y", "type": "quantitative", "scale": {"domain": [-2, 1], "nice": false, "zero": false}, "axis": {"title": "SHAP value for GDP per capita", "values": [-2, -1.5, -1, -0.5, 0, 0.5, 1], "tickCount": 12, "format": ".1f", "labelOverlap": false, "titlePadding": 9}}}},
                {"data": {"name": "gdp_fit"}, "mark": {"type": "line", "color": "#e8191c", "strokeWidth": 1.6, "clip": true},
                 "encoding": {"x": {"field": "x", "type": "quantitative"}, "y": {"field": "y", "type": "quantitative"}}}
              ]
            },
            {
              "spacing": 86,
              "bounds": "flush",
              "hconcat": [
                {
                  "width": 215, "height": 272,
                  "layer": [
                    {"data": {"name": "haq"}, "mark": {"type": "point", "filled": true, "size": 17, "color": "#1f77b4", "opacity": 1},
                     "encoding": {
                       "x": {"field": "x", "type": "quantitative", "scale": {"domain": [60, 96.6], "nice": false, "zero": false}, "axis": {"title": "HAQ index", "values": [60, 70, 80, 90], "tickCount": 12, "format": "d", "labelOverlap": false}},
                       "y": {"field": "y", "type": "quantitative", "scale": {"domain": [-1, 1], "nice": false, "zero": false}, "axis": {"title": "SHAP value for HAQ index", "values": [-1, -0.75, -0.5, -0.25, 0, 0.25, 0.5, 0.75, 1], "tickCount": 12, "format": ".2f", "labelOverlap": false}}}},
                    {"data": {"name": "haq_fit"}, "mark": {"type": "line", "color": "#e8191c", "strokeWidth": 1.6, "clip": true},
                     "encoding": {"x": {"field": "x", "type": "quantitative"}, "y": {"field": "y", "type": "quantitative"}}}
                  ]
                },
                {
                  "width": 215, "height": 272,
                  "layer": [
                    {"data": {"name": "booster"}, "mark": {"type": "point", "filled": true, "size": 17, "color": "#1f77b4", "opacity": 1},
                     "encoding": {
                       "x": {"field": "x", "type": "quantitative", "scale": {"domain": [0, 70], "nice": false, "zero": false}, "axis": {"title": "Booster given", "values": [0, 10, 20, 30, 40, 50, 60, 70], "tickCount": 12, "format": "d", "labelOverlap": false}},
                       "y": {"field": "y", "type": "quantitative", "scale": {"domain": [-1, 1], "nice": false, "zero": false}, "axis": {"title": "SHAP value for booster vaccination", "values": [-1, -0.75, -0.5, -0.25, 0, 0.25, 0.5, 0.75, 1], "tickCount": 12, "format": ".2f", "labelOverlap": false}}}},
                    {"data": {"name": "booster_fit"}, "mark": {"type": "line", "color": "#e8191c", "strokeWidth": 1.6, "clip": true},
                     "encoding": {"x": {"field": "x", "type": "quantitative"}, "y": {"field": "y", "type": "quantitative"}}}
                  ]
                },
                {
                  "width": 215, "height": 272,
                  "layer": [
                    {"data": {"name": "diet"}, "mark": {"type": "point", "filled": true, "size": 17, "color": "#1f77b4", "opacity": 1},
                     "encoding": {
                       "x": {"field": "x", "type": "quantitative", "scale": {"domain": [693, 2000], "nice": false, "zero": false}, "axis": {"title": "Dietary risks", "values": [800, 1000, 1200, 1400, 1600, 1800, 2000], "tickCount": 12, "format": "d", "labelOverlap": false}},
                       "y": {"field": "y", "type": "quantitative", "scale": {"domain": [-1, 1], "nice": false, "zero": false}, "axis": {"title": "SHAP value for dietary risks", "values": [-1, -0.75, -0.5, -0.25, 0, 0.25, 0.5, 0.75, 1], "tickCount": 12, "format": ".2f", "labelOverlap": false}}}},
                    {"data": {"name": "diet_fit"}, "mark": {"type": "line", "color": "#e8191c", "strokeWidth": 1.6, "clip": true},
                     "encoding": {"x": {"field": "x", "type": "quantitative"}, "y": {"field": "y", "type": "quantitative"}}}
                  ]
                }
              ]
            }
          ]
        }
      ]
    }
  ],
  "config": {
    "view": {"stroke": "#333333", "strokeWidth": 1},
    "axis": {
      "domain": false, "grid": false,
      "labelFont": "DejaVu Sans", "labelFontSize": 10, "labelColor": "#222222", "labelFlush": false, "labelOverlap": false, "labelPadding": 2,
      "tickColor": "#333333", "tickSize": 3.5, "tickWidth": 0.8,
      "titleFont": "DejaVu Sans", "titleFontSize": 13.5, "titleFontWeight": "normal", "titleColor": "#111111"
    },
    "axisY": {"titlePadding": 7},
    "axisX": {"titlePadding": 4}
  }
}
